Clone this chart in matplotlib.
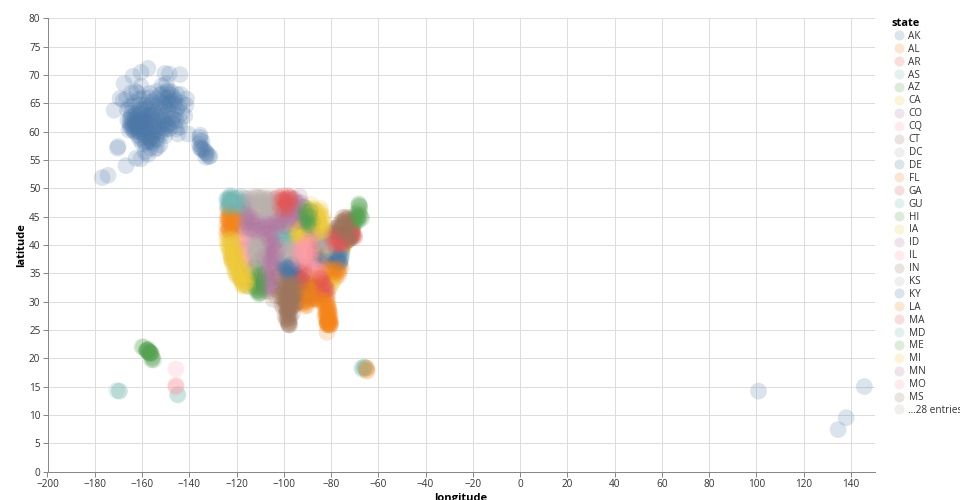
import numpy as np
import matplotlib
matplotlib.use("Agg")
import matplotlib.pyplot as plt
from matplotlib.lines import Line2D

plt.rcParams['font.family'] = ['Open Sans', 'Noto Sans', 'DejaVu Sans']

PALETTE = ['#4c78a8', '#f58518', '#e45756', '#72b7b2', '#54a24f',
           '#eeca3b', '#b279a2', '#ff9da6', '#9d755d', '#bab0ac']

AK = [(-176.9,51.9),(-174.4,52.3),(-170.4,57.1),(-170.1,57.4),(-157.5,71.2),(-160.4,70.5),(-143.9,70.1),(-150.3,70.3),
      (-148.5,70.2),(-171.8,63.8),(-167.6,68.5),(-169.3,65.9),(-166.5,65.8),(-163.8,69.8),(-166.8,54.0),(-162.5,55.3),
      (-160.5,55.2),(-158.7,56.4),(-157.5,56.0),(-156.5,57.1),(-153.6,57.2),(-152.4,57.7),(-154.5,56.9),(-141.4,64.7),
      (-140.5,59.6),(-135.4,59.4),(-135.5,59.0),(-135.3,58.4),(-134.6,58.3),(-135.7,57.8),(-134.9,57.2),(-133.9,56.9),
      (-133.1,56.5),(-132.9,56.3),(-132.4,56.0),(-131.7,55.6),(-131.2,55.7),(-133.0,55.5),(-134.6,56.8),(-135.4,57.1),
      (-167.9,65.6),(-166.2,63.9),(-165.4,64.5),(-164.5,66.9),(-162.6,67.1),(-162.0,66.9),(-160.4,68.0),(-156.7,66.8),
      (-153.8,67.1),(-151.5,68.1),(-149.6,68.5),(-149.0,67.3),(-147.6,67.0),(-145.3,66.6),(-143.7,66.6),(-141.2,65.8),
      (-143.3,65.1),(-146.3,64.8),(-147.7,64.8),(-148.9,63.9),(-149.1,62.3),(-145.4,63.9),(-143.2,63.3),(-141.9,62.8),
      (-144.0,60.8),(-145.5,60.5),(-146.3,61.1),(-149.0,61.2),(-149.9,61.2),(-150.0,60.5),(-151.2,60.6),(-151.7,59.6),
      (-153.3,59.8),(-155.6,59.1),(-156.7,58.7),(-157.0,58.8),(-158.5,59.0),(-160.5,59.0),(-161.8,59.4),(-163.0,60.0),
      (-162.0,60.8),(-161.8,60.8),(-164.5,60.6),(-165.1,61.5),(-166.0,62.0),(-164.6,62.7),(-162.3,63.5),(-160.8,63.9),
      (-161.0,62.0),(-159.5,61.9),(-158.3,61.5),(-157.3,60.0),(-155.6,62.9),(-154.9,63.5),(-156.4,64.7),(-158.7,64.7),
      (-157.7,65.2),(-161.2,64.7),(-152.3,65.2),(-151.0,65.0),(-150.1,64.6),(-152.1,62.9),(-154.7,61.0),(-153.0,61.6),
      (-163.5,61.0),(-162.6,61.5),(-160.3,61.1),(-159.5,60.4),(-157.5,61.8),(-156.0,61.0),(-163.2,62.1),(-165.5,60.3),
      (-161.5,60.1),(-160.0,62.8),(-158.8,63.0),(-155.5,64.0),(-151.3,66.7),(-149.0,66.0),(-147.5,65.5),(-146.0,63.0),
      (-152.0,61.0),(-147.5,61.5),(-158.0,60.5),(-157.5,58.2),(-156.0,58.3),(-161.0,58.7),(-155.0,59.9),(-153.5,58.5),
      (-165.0,61.0),(-163.5,60.2),(-164.0,62.0),(-162.0,62.5),(-160.0,60.5),(-150.5,62.0),(-149.5,67.0),(-152.5,66.5),
      (-146.0,65.5),(-154.0,65.8),(-150.5,61.5),(-152.0,60.0),(-155.5,58.0),(-158.5,57.8),(-161.5,61.0),(-159.0,62.0)]
AK += [(-163.0,63.0),(-161.5,63.0),(-160.2,63.3),(-159.0,64.0),(-157.5,64.0),(-156.0,63.0),(-153.5,62.5),(-151.5,62.2),
       (-150.0,63.0),(-148.0,63.2),(-147.0,62.3),(-148.5,65.0),(-150.5,66.0),(-152.5,64.2),(-154.0,64.5),(-155.5,65.3),
       (-157.0,66.0),(-159.5,66.0),(-161.0,65.8),(-163.0,65.2),(-164.0,64.5),(-164.5,63.3),(-165.0,62.3),(-163.8,60.8),
       (-162.3,60.3),(-160.8,60.0),(-159.2,59.5),(-157.8,59.3),(-156.2,59.6),(-154.5,60.3),(-153.0,60.5),(-156.5,61.5),
       (-155.0,62.0),(-158.0,62.5),(-159.8,62.2),(-161.5,62.0),(-163.0,61.5),(-164.2,61.3),(-152.0,63.5),(-150.0,65.5),
       (-148.0,66.5),(-146.5,66.0),(-144.5,64.5),(-145.5,62.0),(-143.8,62.0),(-148.5,60.5),(-157.0,63.0),(-156.2,62.2),
       (-158.0,61.0),(-160.8,61.5),(-162.0,61.7),(-159.8,57.9),(-158.8,58.3),(-154.2,58.7),(-150.3,59.3),(-144.8,59.6)]
AL = [(-86.8,33.6),(-85.8,31.3),(-87.6,30.4),(-88.2,30.7),(-86.3,32.3),(-85.1,31.6),(-87.2,32.4),(-86.6,34.7),(-87.6,34.7),
      (-85.9,33.6),(-86.0,32.9),(-87.9,33.2),(-88.1,31.9),(-86.9,31.4),(-85.5,34.4),(-86.2,31.0),(-87.1,34.0),(-86.4,33.0),
      (-87.0,30.8),(-85.6,32.6),(-86.9,32.9),(-87.4,31.6)]
AR = [(-92.2,34.7),(-94.2,36.3),(-94.4,35.3),(-90.6,35.8),(-91.9,34.2),(-93.1,34.5),(-92.8,33.2),(-94.0,33.5),(-91.2,33.6),
      (-90.2,35.0),(-93.0,36.2),(-92.5,35.2),(-91.6,36.0),(-90.9,34.6),(-93.8,34.0),(-92.0,33.6),(-93.5,35.6),(-91.4,35.2)]
AS = [(-170.7,14.3),(-169.7,14.2),(-169.5,14.2)]
AZ = [(-112.0,33.4),(-110.9,32.1),(-111.7,35.1),(-112.4,34.7),(-114.6,32.7),(-111.8,33.3),(-109.9,31.5),(-110.4,31.6),
      (-110.2,34.3),(-111.3,34.0),(-112.7,32.9),(-113.9,35.2),(-109.5,34.6),(-110.7,33.0),(-111.4,36.9),(-112.1,33.7),
      (-110.0,35.0),(-109.7,32.3),(-111.9,32.4),(-112.2,34.2),(-110.3,31.9),(-111.1,33.4),(-110.7,31.3),(-109.3,33.3),
      (-112.5,36.0),(-111.5,32.8),(-111.0,32.6),(-110.8,34.6),(-111.6,31.9),(-110.4,33.6)]
CA = [(-118.4,33.9),(-122.4,37.6),(-117.2,32.7),(-121.6,38.7),(-119.7,36.8),(-120.6,35.2),(-119.8,34.4),(-117.8,33.7),
      (-121.9,37.4),(-122.2,37.7),(-118.1,34.2),(-116.5,33.8),(-115.6,32.8),(-117.6,34.1),(-118.9,35.4),(-120.1,39.3),
      (-122.3,40.5),(-124.2,40.9),(-124.1,41.8),(-122.5,41.3),(-120.5,41.5),(-123.2,39.1),(-122.8,38.5),(-121.3,40.0),
      (-120.9,37.6),(-120.4,37.0),(-119.1,34.2),(-118.0,36.6),(-116.0,34.6),(-114.7,34.8),(-117.0,33.0),(-116.9,34.9),
      (-118.5,34.5),(-117.3,33.3),(-119.3,35.7),(-121.4,36.7),(-122.0,36.9),(-123.6,39.8),(-121.2,38.0),(-122.0,38.9),
      (-121.0,39.0),(-120.0,38.0),(-118.7,37.3),(-117.5,35.5),(-116.3,33.2),(-115.4,33.6),(-117.7,32.9),(-120.4,34.9),
      (-120.0,35.7),(-120.9,36.2),(-122.7,39.9),(-121.7,41.0),(-123.9,40.0),(-123.0,40.7),(-122.0,40.0),(-121.5,39.5),
      (-120.5,38.5),(-121.8,37.9),(-120.0,36.4),(-119.0,36.2),(-118.2,35.2),(-117.0,34.4),(-116.0,33.7),(-118.0,33.9),
      (-119.0,34.9),(-122.0,37.3),(-122.9,39.3),(-123.4,41.0),(-119.5,38.7),(-117.9,34.7),(-120.8,35.6),(-121.0,37.0),
      (-116.4,32.9),(-115.3,32.7),(-122.3,38.2),(-121.0,40.5)]
CO = [(-104.7,39.9),(-104.7,38.8),(-108.5,39.1),(-106.9,39.2),(-107.2,37.2),(-103.2,39.2),(-105.1,40.5),(-106.9,40.5),
      (-102.3,40.1),(-104.3,37.2),(-108.3,37.3),(-105.9,37.4),(-107.8,38.5),(-103.6,38.0),(-102.6,38.1),(-106.3,39.6),
      (-105.5,38.5),(-107.9,40.1),(-105.0,40.0),(-104.0,38.9),(-106.0,38.0),(-104.2,40.2),(-103.2,37.6),(-105.5,39.5),
      (-107.0,38.3),(-103.5,40.5),(-102.5,39.0),(-106.2,40.9),(-108.7,38.0),(-104.9,37.8)]
CQ = [(-145.7,18.1),(-145.7,15.2),(-145.6,15.1),(-145.7,14.9)]
CT = [(-72.7,41.9),(-73.1,41.2),(-72.9,41.3),(-72.0,41.3),(-72.5,41.7),(-73.5,41.4),(-73.1,41.7),(-71.9,41.8)]
DC = [(-77.0,38.9),(-77.0,38.8)]
DE = [(-75.6,39.7),(-75.5,39.1),(-75.4,38.7),(-75.6,39.3)]
FL = [(-80.3,25.8),(-80.1,26.1),(-81.8,26.5),(-81.7,24.6),(-82.5,27.9),(-81.3,28.4),(-81.7,30.5),(-84.3,30.4),
      (-85.7,30.2),(-87.2,30.5),(-86.5,30.5),(-82.3,29.7),(-80.6,28.1),(-81.1,29.2),(-81.5,27.5),(-80.4,27.5),(-82.7,27.4),
      (-82.0,27.0),(-81.4,26.2),(-80.9,26.7),(-80.2,26.7),(-81.9,28.2),(-82.5,28.9),(-83.3,29.6),(-82.9,30.3),(-81.3,29.9),
      (-81.0,28.7),(-81.6,26.3),(-81.5,26.9),(-81.0,26.0),(-80.5,26.4),(-81.8,25.9),(-81.2,27.0),(-81.0,27.8),(-80.6,26.9),
      (-81.6,27.9),(-82.0,28.0),(-80.3,26.0),(-81.4,25.9),(-80.7,25.9),(-81.7,26.2),(-81.1,26.4),(-80.8,28.4),(-81.5,29.2),
      (-82.0,29.2),(-83.8,30.1),(-85.0,30.7),(-82.0,30.2)]
GA = [(-84.4,33.6),(-81.2,32.1),(-83.6,32.7),(-82.0,33.4),(-84.9,32.5),(-84.2,31.5),(-83.3,31.5),(-82.4,31.2),(-81.5,31.2),
      (-83.3,34.0),(-85.2,34.3),(-84.5,34.9),(-83.8,34.3),(-82.5,32.6),(-84.8,33.4),(-83.3,30.8),(-84.1,32.2),(-81.9,32.4),
      (-83.5,33.3),(-84.2,33.9),(-82.8,33.0),(-83.0,32.0),(-84.7,34.2),(-82.2,32.0)]
GU = [(-144.8,13.5),(-144.9,13.6)]
HI = [(-160.0,22.0),(-159.3,22.0),(-158.0,21.5),(-157.9,21.3),(-157.1,21.1),(-156.9,20.9),(-156.4,20.9),(-156.3,20.8),
      (-155.6,20.0),(-155.1,19.7),(-157.6,21.4),(-157.0,21.2),(-156.7,20.95),(-156.5,21.0),(-155.8,20.2),(-157.4,21.6),
      (-158.1,21.3),(-157.9,21.5),(-156.0,20.8),(-156.0,19.7)]
IA = [(-93.7,41.5),(-91.7,41.9),(-90.7,42.4),(-92.4,42.6),(-96.4,42.4),(-95.8,41.3),(-94.2,42.6),(-91.5,40.8),(-93.2,43.2),
      (-95.2,43.2),(-92.9,41.0),(-91.1,43.0),(-94.9,42.0),(-95.0,40.8),(-93.6,40.7),(-96.0,43.1),(-93.0,42.0),(-92.0,41.3),
      (-94.3,41.2),(-91.0,41.4),(-92.5,43.0),(-93.8,42.2)]
ID = [(-116.2,43.6),(-114.3,42.5),(-112.6,42.9),(-112.1,43.5),(-116.9,47.7),(-117.0,46.4),(-114.3,43.5),(-115.0,44.9),
      (-113.9,45.1),(-116.0,47.4),(-116.1,44.9),(-115.3,43.1),(-111.1,43.7),(-111.8,44.5),(-113.3,43.9),(-116.6,48.3),
      (-116.7,42.7),(-114.8,46.2),(-116.5,45.5),(-115.5,44.0),(-113.0,44.4),(-114.0,42.9),(-112.4,42.3),(-115.5,45.5),
      (-116.3,44.3),(-113.5,44.8),(-117.0,43.2),(-111.6,42.6)]
IL = [(-87.9,41.9),(-87.6,41.8),(-89.7,39.8),(-89.7,40.7),(-88.9,40.5),(-89.1,42.2),(-88.3,40.0),(-90.5,41.4),(-90.0,38.5),
      (-88.9,38.6),(-89.2,37.8),(-89.0,41.4),(-88.2,41.2),(-90.9,40.0),(-88.6,39.5),(-87.6,40.2),(-88.0,38.0),(-88.7,37.2),
      (-89.5,39.0),(-90.0,40.5),(-88.2,39.0),(-89.0,38.0),(-88.5,41.9),(-87.8,41.4)]
IN = [(-86.3,39.7),(-85.2,41.0),(-86.3,41.7),(-87.5,38.0),(-87.3,39.5),(-86.9,40.4),(-85.4,40.2),(-86.5,39.1),(-87.3,41.5),
      (-85.6,41.4),(-85.9,38.7),(-86.1,40.7),(-87.2,38.7),(-85.2,39.8),(-86.6,38.2),(-86.2,40.0),(-85.8,39.3)]
KS = [(-97.4,37.6),(-95.6,39.1),(-94.9,37.5),(-99.8,37.7),(-100.7,37.9),(-98.6,38.8),(-97.6,38.8),(-101.0,39.4),(-96.7,39.1),
      (-101.7,37.0),(-99.3,38.9),(-97.9,38.1),(-99.0,37.3),(-96.0,37.7),(-100.5,39.0),(-98.0,39.6),(-95.2,38.4),(-101.5,38.5),
      (-97.0,37.2),(-99.8,39.7),(-98.3,37.9),(-96.8,38.3),(-95.5,37.6),(-100.0,38.4),(-97.4,39.3),(-96.0,38.9)]
KY = [(-85.7,38.2),(-84.6,38.0),(-84.7,39.0),(-88.8,37.1),(-86.4,37.0),(-87.2,37.7),(-83.9,37.5),(-82.6,38.0),(-85.0,37.1),
      (-84.0,36.9),(-87.5,36.9),(-83.2,37.2),(-85.9,37.5),(-84.5,37.3),(-86.8,37.3)]
LA = [(-90.3,30.0),(-93.8,32.4),(-92.0,32.5),(-92.0,30.2),(-93.2,30.1),(-91.2,30.5),(-92.5,31.3),(-90.7,29.6),(-89.8,30.4),
      (-92.9,29.8),(-93.7,31.2),(-91.5,31.9),(-90.0,29.3),(-91.1,32.6),(-93.0,32.8),(-91.9,29.7),(-92.0,31.0),(-90.5,30.5),
      (-91.5,30.0),(-93.0,31.8),(-91.0,29.2)]
MA = [(-71.0,42.4),(-70.0,41.7),(-70.1,41.3),(-70.6,41.4),(-71.9,42.3),(-72.7,42.2),(-71.2,42.5),(-70.9,41.7),(-73.2,42.4),
      (-70.9,42.6),(-71.4,42.1),(-70.7,41.9)]
MD = [(-76.7,39.2),(-75.5,38.3),(-77.7,39.7),(-76.9,38.8),(-76.2,38.9),(-76.5,38.3),(-78.8,39.6),(-76.4,39.4)]
ME = [(-70.3,43.6),(-68.8,44.8),(-68.0,46.9),(-68.3,44.4),(-69.8,44.3),(-67.8,45.3),(-69.6,45.5),(-70.7,44.5),(-68.0,46.1),
      (-68.3,47.3),(-69.1,44.1),(-67.0,44.7),(-69.7,44.9),(-68.5,45.7),(-67.8,46.7),(-70.3,44.0),(-68.2,47.0),(-68.6,44.9),
      (-67.5,45.0),(-69.0,45.2)]
MI = [(-83.4,42.2),(-85.5,42.2),(-85.5,42.9),(-84.6,42.8),(-83.7,43.0),(-85.6,44.7),(-84.8,45.6),(-84.4,46.5),(-87.4,46.5),
      (-83.3,45.1),(-88.5,47.2),(-86.2,43.2),(-84.1,43.5),(-83.6,44.4),(-85.6,43.9),(-86.2,44.3),(-87.1,45.7),(-85.0,44.3),
      (-86.0,46.0),(-89.2,46.4),(-88.0,46.0),(-84.7,44.0),(-83.0,42.7),(-86.4,42.1),(-85.0,45.0),(-84.0,44.9),(-85.8,45.5),
      (-84.3,43.0),(-83.3,43.8),(-85.3,43.3),(-87.0,46.3),(-84.6,46.0),(-83.2,42.5),(-84.4,42.3)]
MN = [(-93.2,44.9),(-92.2,46.8),(-92.5,44.0),(-94.1,46.4),(-96.8,46.9),(-94.9,47.5),(-96.1,46.2),(-93.4,47.4),(-95.6,45.0),
      (-94.2,45.5),(-95.0,43.9),(-91.9,44.2),(-96.2,48.0),(-93.4,48.6),(-94.0,44.2),(-95.4,46.8),(-93.3,46.0),(-95.0,45.6),
      (-94.0,47.0),(-95.5,48.2),(-92.5,47.5),(-93.5,44.3)]
MO = [(-90.4,38.7),(-94.7,39.3),(-93.4,37.2),(-92.4,38.8),(-94.5,37.2),(-92.1,37.7),(-94.9,39.8),(-89.6,37.2),(-91.7,37.0),
      (-93.2,38.7),(-90.4,36.8),(-92.6,40.1),(-91.4,39.7),(-93.5,39.4),(-91.2,38.2),(-92.2,38.0),(-89.6,36.6),(-94.0,38.1),
      (-90.8,37.8),(-92.9,37.9),(-93.9,36.9),(-91.8,38.5),(-94.2,38.8),(-93.0,39.8),(-91.0,39.2),(-92.4,39.2),(-92.8,37.3),
      (-91.0,38.9),(-93.4,38.2),(-92.0,39.5)]
MS = [(-90.1,32.3),(-89.3,31.5),(-89.1,30.4),(-88.6,32.3),(-90.7,31.2),(-90.9,33.4),(-88.6,34.3),(-89.5,34.4),(-88.5,33.5),
      (-89.9,33.8),(-89.8,31.9),(-88.7,31.0),(-89.3,33.0),(-90.3,31.0),(-90.0,34.8),(-89.1,32.6)]
MT = [(-108.5,45.8),(-111.2,47.5),(-112.0,46.6),(-114.1,46.9),(-111.2,45.8),(-112.5,46.0),(-114.3,48.3),(-106.6,48.2),
      (-109.8,48.5),(-112.4,48.6),(-104.8,47.1),(-105.9,46.4),(-109.5,47.0),(-107.5,47.3),(-110.5,48.2),(-113.5,47.5),
      (-104.2,48.2),(-112.9,45.3),(-111.9,48.4),(-107.0,45.0),(-110.0,46.2),(-106.0,47.8),(-108.3,48.5),(-115.5,48.2),
      (-107.0,46.5),(-108.5,47.0),(-110.0,47.5),(-111.0,46.8),(-108.0,46.0),(-109.3,46.0),(-106.2,46.8),(-105.5,48.4),
      (-107.2,48.0),(-108.5,47.8),(-109.0,48.2),(-111.0,48.5),(-104.5,46.0),(-113.2,48.0)]
NA = [(100.9,14.2),(138.0,9.5),(134.6,7.4),(145.7,15.0)]
NC = [(-80.9,35.2),(-78.8,35.9),(-79.9,36.1),(-82.5,35.4),(-77.9,34.3),(-77.0,35.1),(-78.9,35.0),(-76.7,34.7),(-75.7,36.0),
      (-80.2,36.1),(-81.4,35.7),(-83.3,35.2),(-79.5,35.2),(-77.4,35.6),(-76.2,36.3),(-81.7,36.2),(-78.0,34.9),(-79.3,35.7),
      (-80.4,35.5),(-77.8,35.9),(-78.4,35.3),(-76.5,35.5)]
ND = [(-96.8,46.9),(-100.8,46.8),(-101.3,48.3),(-97.2,47.9),(-103.6,48.1),(-102.8,46.8),(-98.9,46.9),(-99.0,48.1),(-97.9,46.5),
      (-100.0,47.5),(-103.0,47.5),(-98.3,48.7),(-100.4,48.7),(-96.6,46.3),(-102.0,46.2),(-99.6,46.2),(-101.9,47.3),(-97.5,48.5),
      (-99.5,47.9),(-98.0,47.5),(-97.3,47.3),(-100.2,46.3),(-101.0,47.8),(-102.5,48.5),(-98.7,46.3),(-99.0,47.2),(-100.5,48.0),
      (-97.9,48.2),(-96.9,48.3),(-101.5,46.6)]
NE = [(-96.0,41.3),(-96.8,40.9),(-98.3,40.9),(-100.7,41.1),(-103.6,41.9),(-99.0,40.7),(-97.4,42.0),(-100.0,42.0),(-98.0,42.5),
      (-101.7,41.0),(-102.8,42.1),(-97.0,40.3),(-99.5,41.4),(-98.5,41.6),(-101.0,42.6),(-100.0,40.4)]
NH = [(-71.4,43.0),(-70.8,43.1),(-71.5,43.6),(-72.3,43.6),(-71.2,44.4),(-72.3,42.9)]
NJ = [(-74.2,40.7),(-74.6,39.5),(-74.8,39.9),(-74.9,39.4),(-74.4,40.3),(-74.1,40.9),(-74.6,40.9)]
NM = [(-106.6,35.0),(-108.2,36.7),(-105.0,34.9),(-104.5,33.3),(-103.2,34.4),(-106.8,32.3),(-108.2,32.6),(-105.5,36.4),
      (-103.6,35.2),(-104.2,32.3),(-103.2,32.7),(-106.9,34.1),(-108.7,35.5),(-106.1,35.6),(-105.7,33.4),(-107.3,33.2),
      (-104.2,36.7),(-109.0,33.8),(-105.0,32.9),(-107.8,31.9),(-103.9,36.0),(-105.9,34.2),(-106.5,36.0),(-104.8,35.6),
      (-107.5,35.0),(-106.3,33.0),(-104.0,34.2),(-107.0,32.8)]
NV = [(-115.2,36.1),(-119.8,39.5),(-116.0,39.5),(-114.8,39.3),(-115.8,40.8),(-117.8,41.0),(-118.7,39.4),(-117.1,38.1),
      (-114.5,37.7),(-114.0,41.0),(-116.4,37.2),(-117.2,40.2),(-118.7,40.6),(-117.9,39.0),(-115.0,38.0),(-119.5,41.0),
      (-116.5,41.5),(-115.6,36.8),(-114.8,36.2),(-116.9,39.8)]
NY = [(-73.8,40.6),(-73.9,40.8),(-73.8,42.7),(-76.1,43.1),(-77.7,43.1),(-78.7,42.9),(-75.4,43.1),(-76.9,42.2),(-76.0,42.2),
      (-73.7,44.6),(-74.2,44.4),(-75.9,44.0),(-74.9,44.9),(-72.9,40.8),(-72.6,40.9),(-73.7,41.1),(-74.1,41.5),(-79.3,42.2),
      (-78.0,42.7),(-75.0,42.3),(-73.9,41.7),(-74.5,42.9),(-76.5,42.5),(-75.0,44.2),(-73.0,42.2),(-72.3,41.0),(-73.4,43.3),
      (-74.0,43.7),(-76.5,43.5),(-77.5,42.3),(-75.5,42.7),(-74.3,41.9),(-73.5,42.2),(-74.8,43.9),(-74.0,44.9),(-72.9,41.6),
      (-73.4,44.0),(-75.2,43.5)]
OH = [(-81.8,41.4),(-83.8,41.6),(-82.9,40.0),(-84.2,39.9),(-84.5,39.1),(-81.4,40.9),(-80.7,41.3),(-83.0,39.5),(-82.5,41.2),
      (-84.0,40.7),(-81.4,39.4),(-80.9,40.2),(-83.6,38.9),(-82.2,40.6),(-84.5,41.3),(-83.1,40.6),(-82.0,39.9),(-83.5,40.2),
      (-81.0,40.7),(-82.5,39.0)]
OK = [(-97.6,35.4),(-95.9,36.2),(-98.4,34.6),(-99.2,36.4),(-101.5,36.7),(-95.4,35.7),(-97.8,36.4),(-96.0,34.5),(-97.1,36.7),
      (-99.3,34.7),(-94.9,34.9),(-96.7,35.0),(-97.4,34.2),(-100.5,36.8),(-98.9,35.3),(-96.4,36.0),(-95.5,34.0),(-99.9,35.6),
      (-97.1,35.9),(-98.0,34.8),(-95.2,36.4),(-96.0,35.7),(-98.0,36.0),(-99.0,36.0),(-97.4,35.3),(-100.0,36.3),(-96.6,36.5),
      (-98.5,35.9)]
OR = [(-122.6,45.6),(-123.2,44.1),(-122.9,42.4),(-121.7,42.2),(-121.2,44.1),(-124.2,43.4),(-118.0,42.9),(-120.4,42.2),
      (-117.8,44.8),(-118.8,45.7),(-123.9,46.2),(-123.0,44.9),(-123.4,43.2),(-121.2,45.6),(-119.1,43.6),(-122.0,43.5),
      (-123.8,45.0),(-120.0,44.6),(-122.4,42.2),(-123.0,42.9),(-122.8,44.5),(-121.8,43.0),(-124.0,44.5),(-121.9,45.0),
      (-122.5,44.0),(-123.4,44.6),(-122.4,45.2),(-123.2,45.5),(-123.5,42.6),(-122.6,43.3),(-124.1,42.2),(-121.5,44.5)]
PA = [(-75.2,39.9),(-80.2,40.5),(-75.4,40.7),(-76.9,40.2),(-75.7,41.3),(-78.3,40.3),(-79.4,40.3),(-80.2,42.1),(-77.8,40.9),
      (-76.9,41.2),(-78.7,41.8),(-75.0,41.2),(-76.3,40.1),(-75.9,40.4),(-79.9,41.4),(-77.2,41.6),(-78.9,41.2),(-79.0,40.0),
      (-77.7,39.9),(-75.5,40.2),(-76.5,41.7),(-78.0,41.4),(-76.4,40.7),(-74.9,40.1),(-79.7,40.9),(-75.9,41.7)]
PR = [(-66.0,18.4),(-67.1,18.3),(-66.6,18.0),(-65.6,18.2),(-66.1,18.45)]
RI = [(-71.4,41.7),(-71.5,41.2),(-71.3,41.5),(-71.8,41.6)]
SC = [(-80.0,32.9),(-81.1,33.9),(-82.2,34.9),(-78.9,33.7),(-79.7,34.2),(-80.7,32.4),(-81.7,33.5),(-80.8,34.9),(-79.0,34.3),
      (-82.7,34.5),(-80.4,33.6),(-81.9,34.1),(-79.3,33.4)]
SD = [(-103.1,44.0),(-96.7,43.6),(-98.4,45.4),(-100.3,44.4),(-97.2,44.9),(-98.2,43.7),(-100.7,43.0),(-102.5,45.0),(-103.5,45.6),
      (-100.0,45.5),(-97.4,42.9),(-99.3,44.4),(-102.0,43.3),(-103.7,43.2),(-101.3,44.5),(-96.9,45.2),(-98.5,44.4),(-99.5,43.3),
      (-102.8,44.3),(-100.5,45.0),(-101.8,44.0),(-98.0,45.0),(-103.2,43.6),(-99.0,45.7)]
TN = [(-90.0,35.0),(-86.7,36.1),(-84.0,35.8),(-85.2,35.0),(-82.4,36.5),(-88.9,35.6),(-87.4,36.5),(-88.2,36.3),(-85.5,36.1),
      (-84.9,35.6),(-86.4,35.5),(-89.4,36.0),(-87.7,35.2),(-83.4,36.1),(-86.0,35.2),(-87.0,35.7),(-84.5,35.3)]
TX = [(-97.0,32.9),(-95.3,30.0),(-98.5,29.5),(-97.7,30.2),(-101.7,35.2),(-101.8,33.7),(-106.4,31.8),(-102.2,31.9),(-97.5,27.8),
      (-97.4,25.9),(-98.2,26.2),(-99.5,27.5),(-100.9,29.4),(-104.5,30.4),(-103.2,31.0),(-94.0,30.0),(-94.7,32.4),(-95.4,32.3),
      (-96.1,33.2),(-98.5,33.9),(-99.7,32.4),(-100.5,31.4),(-97.2,31.6),(-96.4,30.6),(-94.7,31.3),(-97.3,32.6),(-98.1,29.0),
      (-96.9,28.9),(-95.8,29.2),(-99.2,30.1),(-98.7,31.0),(-99.4,29.1),(-97.9,28.2),(-98.3,27.3),(-97.6,26.6),(-97.9,26.3),
      (-99.1,26.9),(-98.0,27.0),(-98.5,28.4),(-97.3,29.8),(-96.4,29.2),(-97.5,31.0),(-98.2,32.3),(-99.8,30.6),(-96.0,31.3),
      (-97.7,33.2),(-95.0,29.6),(-97.6,28.8),(-98.8,28.0),(-99.0,29.8),(-98.5,30.5),(-97.8,25.9),(-98.0,25.9),(-97.2,27.2),
      (-96.5,32.2),(-100.2,28.9),(-101.0,32.5),(-98.0,31.5),(-100.0,33.2),(-102.5,34.5),(-97.2,30.3),(-96.2,28.0),(-98.7,33.0),
      (-99.0,32.0),(-97.9,30.9),(-96.7,31.2),(-97.0,29.2),(-95.5,31.0),(-98.0,28.9),(-98.4,29.9),(-99.5,31.5),(-100.5,30.5),
      (-101.5,31.0),(-100.0,32.0),(-98.5,26.9),(-98.3,27.9),(-97.7,29.3),(-96.8,30.0),(-98.9,28.9),(-96.5,33.0),(-95.0,33.0)]
UT = [(-112.0,40.8),(-111.7,40.2),(-113.5,37.1),(-113.1,37.7),(-109.8,38.8),(-109.5,40.4),(-111.9,41.2),(-110.8,39.6),
      (-112.6,39.0),(-114.0,40.7),(-111.0,38.3),(-109.7,37.6),(-112.2,37.9),(-113.2,40.7),(-110.0,39.3),(-112.9,41.8),
      (-111.0,40.9),(-111.6,37.1),(-111.8,39.3),(-112.6,38.4),(-110.5,37.8),(-113.0,39.9),(-111.3,38.8),(-110.3,40.4),
      (-112.4,40.0),(-109.9,39.9),(-111.0,39.0),(-112.0,38.7),(-110.7,38.7),(-111.5,39.8)]
VA = [(-77.5,38.9),(-77.3,37.5),(-76.2,36.9),(-80.0,37.3),(-79.0,38.3),(-78.5,38.1),(-79.2,37.3),(-81.6,36.7),(-76.4,37.1),
      (-77.5,37.2),(-78.1,38.5),(-77.4,38.4),(-82.0,37.1),(-75.7,37.8),(-78.4,36.7),(-76.9,37.9),(-76.5,36.7),(-77.0,37.0),
      (-75.9,37.4),(-77.9,37.5)]
VI = [(-64.9,18.3),(-64.8,17.7),(-65.1,18.3),(-64.9,17.9)]
VT = [(-73.2,44.5),(-72.6,44.2),(-72.3,44.9),(-73.0,43.6),(-72.5,43.0)]
WA = [(-122.3,47.4),(-117.5,47.6),(-122.5,47.3),(-122.9,46.9),(-120.5,46.6),(-119.1,46.3),(-122.5,48.8),(-123.5,48.1),
      (-122.2,48.0),(-123.0,48.5),(-119.5,47.3),(-120.2,47.4),(-123.9,47.0),(-122.9,46.1),(-118.3,46.1),(-117.2,46.7),
      (-119.6,48.4),(-122.3,47.9),(-122.0,46.5),(-121.3,47.3),(-118.1,48.6),(-123.0,47.4),(-124.0,47.9),(-122.7,47.9),
      (-121.5,48.4),(-122.6,47.0),(-123.7,46.6),(-120.9,48.1),(-122.1,47.6),(-123.2,48.0),(-122.4,48.4),(-124.2,48.2),
      (-118.9,47.5),(-120.0,48.2),(-121.0,46.5),(-118.0,47.2),(-123.3,46.8)]
WI = [(-87.9,42.9),(-89.3,43.1),(-88.1,44.5),(-88.5,44.0),(-91.3,43.9),(-89.6,44.9),(-91.5,44.9),(-92.1,46.7),(-90.9,46.6),
      (-89.5,45.6),(-88.1,45.8),(-87.6,44.8),(-90.1,42.9),(-91.9,45.3),(-90.1,45.9),(-88.2,43.1),(-88.9,42.7),(-90.5,44.6),
      (-89.4,44.0),(-88.8,45.1),(-91.0,45.7),(-87.7,44.1),(-89.0,44.4),(-90.0,44.2),(-88.5,43.5),(-90.7,46.0),(-89.8,43.6),
      (-90.3,45.2),(-89.2,45.0),(-88.9,46.0)]
WV = [(-81.6,38.4),(-80.2,39.3),(-81.4,39.3),(-81.1,37.8),(-78.0,39.4),(-80.4,37.9),(-82.6,38.4),(-79.9,38.9)]
WY = [(-106.5,42.9),(-104.8,41.2),(-110.7,43.6),(-109.0,44.5),(-108.5,42.8),(-105.5,44.3),(-106.9,44.8),(-107.9,43.9),
      (-105.6,41.3),(-109.1,41.6),(-104.3,42.1),(-107.2,41.8),(-110.9,42.0),(-110.4,41.3),(-108.7,43.1),(-104.2,43.9),
      (-106.4,43.8),(-110.0,44.5),(-105.5,42.8),(-107.0,43.3),(-105.8,43.5),(-108.0,42.0),(-109.5,43.0),(-106.0,42.0)]

STATES = ['AK','AL','AR','AS','AZ','CA','CO','CQ','CT','DC','DE','FL','GA','GU','HI','IA','ID','IL','IN','KS','KY','LA',
          'MA','MD','ME','MI','MN','MO','MS','MT','NA','NC','ND','NE','NH','NJ','NM','NV','NY','OH','OK','OR','PA','PR',
          'RI','SC','SD','TN','TX','UT','VA','VI','VT','WA','WI','WV','WY']
SERIES = [AK,AL,AR,AS,AZ,CA,CO,CQ,CT,DC,DE,FL,GA,GU,HI,IA,ID,IL,IN,KS,KY,LA,MA,MD,ME,MI,MN,MO,MS,MT,NA,NC,ND,NE,NH,NJ,
          NM,NV,NY,OH,OK,OR,PA,PR,RI,SC,SD,TN,TX,UT,VA,VI,VT,WA,WI,WV,WY]
LEGEND_SHOWN = 29
LEGEND_MORE = '…28 entries'

W, H = 960, 500
fig = plt.figure(figsize=(W/100, H/100), dpi=100)
L, R, T, B = 47.5, 874.5, 18.5, 471.5
ax = fig.add_axes([L/W, 1-B/H, (R-L)/W, (B-T)/H])
ax.set_xlim(-200, 150)
ax.set_ylim(0, 80)

# points are laid down round by round so the states blend as in the data order
lon, lat, col, rnd = [], [], [], []
for i, pts in enumerate(SERIES):
    for j, (a, b) in enumerate(pts):
        lon.append(a); lat.append(b); col.append(PALETTE[i % 10]); rnd.append(j + (i * 7) % 5)
order = np.argsort(rnd, kind='stable')
ax.scatter(np.array(lon)[order], np.array(lat)[order], s=145, c=np.array(col)[order],
           alpha=0.2, linewidths=0, edgecolors='none', zorder=3, clip_on=False)

ax.set_xticks(np.arange(-200, 141, 20))
ax.set_yticks(np.arange(0, 81, 5))
ax.set_xticklabels([str(v).replace('-', '\u2212') for v in np.arange(-200, 141, 20)])
ax.grid(True, color='#ddd', linewidth=0.72)
ax.set_axisbelow(True)
for s in ['top', 'right']:
    ax.spines[s].set_visible(False)
for s in ['left', 'bottom']:
    ax.spines[s].set_color('#888')
    ax.spines[s].set_linewidth(0.72)
ax.tick_params(length=3.6, width=0.72, color='#888', labelsize=7.2, labelcolor='#333', pad=1.5)
ax.set_xlabel('longitude', fontsize=8, fontweight='bold', labelpad=2.5, color='black')
ax.set_ylabel('latitude', fontsize=8, fontweight='bold', labelpad=1, color='black')

handles = [Line2D([], [], ls='', marker='o', ms=7.2, mew=0, color=PALETTE[i % 10], alpha=0.2)
           for i in range(LEGEND_SHOWN + 1)]
labels = STATES[:LEGEND_SHOWN] + [LEGEND_MORE]
leg = ax.legend(handles, labels, title='state', loc='upper left', bbox_to_anchor=(892/W, 1-18/H),
                bbox_transform=fig.transFigure, frameon=False, fontsize=7.2, labelspacing=0.19,
                handletextpad=0.35, handlelength=1.3, borderpad=0, borderaxespad=0,
                title_fontproperties={'weight': 'bold', 'size': 8}, alignment='left', labelcolor='#333')
fig.savefig('out.png', dpi=100)
